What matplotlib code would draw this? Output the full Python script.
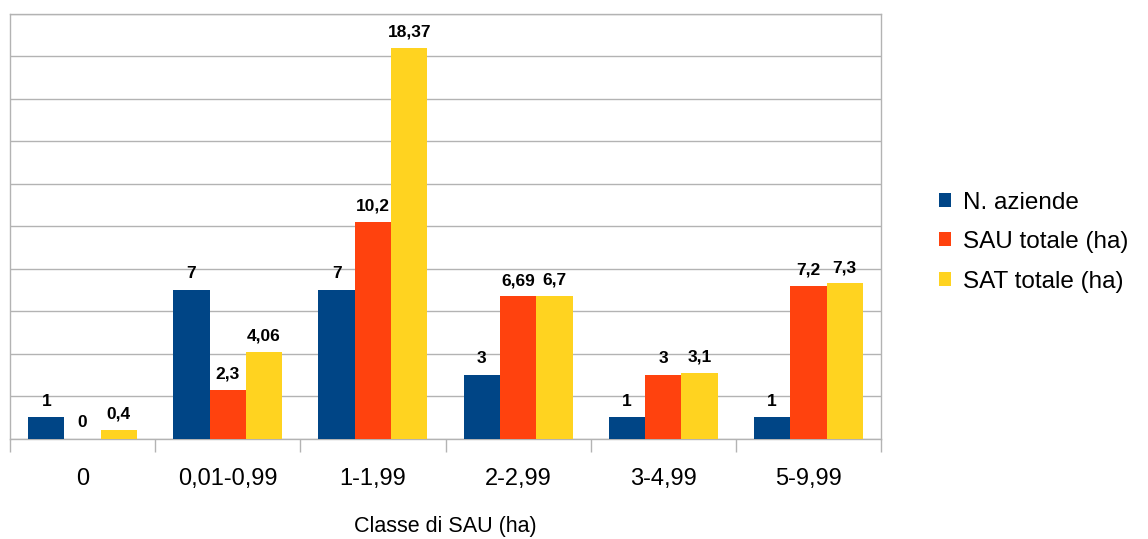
import numpy as np
import matplotlib
matplotlib.use("Agg")
import matplotlib.pyplot as plt

plt.rcParams['font.family'] = ['Liberation Sans', 'DejaVu Sans']

classi = ["0", "0,01-0,99", "1-1,99", "2-2,99", "3-4,99", "5-9,99"]
n_aziende = [1, 7, 7, 3, 1, 1]
sau_totale = [0, 2.3, 10.2, 6.69, 3, 7.2]
sat_totale = [0.4, 4.06, 18.37, 6.7, 3.1, 7.3]

serie = [("N. aziende", n_aziende, "#004586"),
         ("SAU totale (ha)", sau_totale, "#ff420e"),
         ("SAT totale (ha)", sat_totale, "#ffd320")]

def fmt(v):
    # decimali con la virgola
    return ("%g" % v).replace(".", ",")

fig = plt.figure(figsize=(11.48, 5.39), dpi=100)
ax = fig.add_axes([10/1148, 1 - 438.5/539, 871/1148, 425/539])

x = np.arange(len(classi))
w = 0.25
for i, (nome, vals, col) in enumerate(serie):
    pos = x + (i - 1) * w
    bars = ax.bar(pos, vals, width=w, color=col, label=nome, zorder=3)
    for b, v in zip(bars, vals):
        ax.annotate(fmt(v), (b.get_x() + b.get_width() / 2, v),
                    xytext=(0, 6), textcoords="offset points",
                    ha="center", va="bottom", fontsize=12.5, fontweight="bold")

ax.set_xlim(-0.5, len(classi) - 0.5)
ax.set_ylim(0, 20)
ax.set_yticks(np.arange(0, 21, 2))
ax.set_yticklabels([])
ax.tick_params(axis="y", length=0)
ax.grid(axis="y", color="#b3b3b3", linewidth=1, zorder=0)

ax.set_xticks(x)
ax.set_xticklabels(classi, fontsize=17)
ax.tick_params(axis="x", which="major", length=0, pad=21)
ax.set_xticks(np.arange(-0.5, len(classi)), minor=True)
ax.tick_params(axis="x", which="minor", length=9, color="#b3b3b3", width=1)
ax.set_xlabel("Classe di SAU (ha)", fontsize=15.5, labelpad=19)

for s in ax.spines.values():
    s.set_color("#b3b3b3")
    s.set_linewidth(1)

ax.legend(loc="center left", bbox_to_anchor=(917/1148, 1 - 242/539),
          bbox_transform=fig.transFigure, frameon=False, fontsize=17.5,
          handlelength=0.5, handleheight=0.5, handletextpad=0.5, labelspacing=0.72)

fig.savefig("out.png", dpi=100)
